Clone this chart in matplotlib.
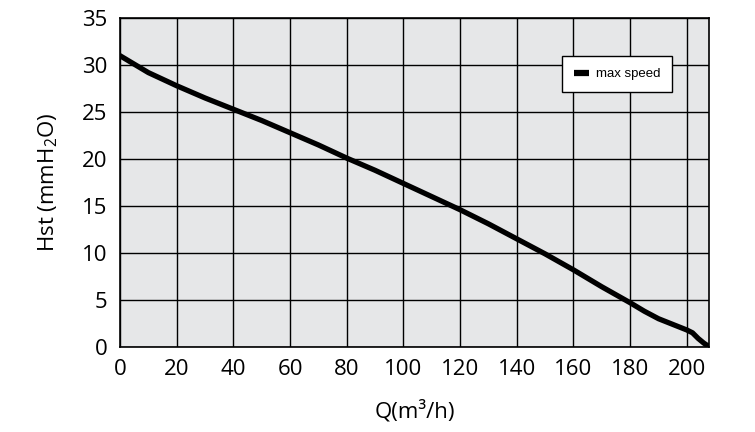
import numpy as np
import matplotlib.pyplot as plt

# pump curve
flow = [0, 10, 20, 30, 40, 50, 60, 70, 80, 90, 100, 110, 120, 130, 140,
        150, 160, 170, 180, 185, 190, 195, 200, 202, 204, 206, 207.5]
head = [31.0, 29.2, 27.8, 26.5, 25.3, 24.1, 22.8, 21.5, 20.1, 18.8, 17.4,
        16.0, 14.6, 13.1, 11.5, 9.9, 8.2, 6.4, 4.7, 3.8, 3.0, 2.4, 1.8,
        1.5, 0.9, 0.4, 0.1]
x_ticks = np.arange(0, 201, 20)
y_ticks = np.arange(0, 36, 5)

plt.rcParams['font.family'] = ['Open Sans', 'DejaVu Sans']
plt.rcParams['mathtext.default'] = 'regular'

fig = plt.figure(figsize=(7.55, 4.32), dpi=100)
ax = fig.add_axes([0.159, 0.197, 0.78, 0.761])
ax.set_facecolor('#e6e7e8')

ax.plot(flow, head, color='black', lw=3.8, solid_capstyle='round',
        solid_joinstyle='round', label='max speed', zorder=3)

ax.set_xlim(0, 207.8)
ax.set_ylim(0, 35)
ax.set_xticks(x_ticks)
ax.set_yticks(y_ticks)
ax.grid(True, color='black', lw=1.0)
ax.set_axisbelow(True)
for s in ax.spines.values():
    s.set_color('black')
    s.set_linewidth(1.2)
ax.tick_params(length=0, labelsize=16, pad=9)

ax.set_xlabel('Q(m³/h)', fontsize=16, labelpad=14)
ax.set_ylabel('Hst (mmH$_2$O)', fontsize=16, labelpad=16)

leg = ax.legend(loc='upper left', bbox_to_anchor=(0.750, 0.884),
                prop={'family': 'Liberation Sans', 'size': 9.5},
                handlelength=1.2, handletextpad=0.5, fancybox=False,
                framealpha=1, edgecolor='black', borderpad=0.9,
                borderaxespad=0)
leg.get_frame().set_linewidth(1.0)
leg.get_lines()[0].set_linewidth(4.5)
leg.get_lines()[0].set_solid_capstyle('butt')

fig.savefig('out.png', dpi=100)
